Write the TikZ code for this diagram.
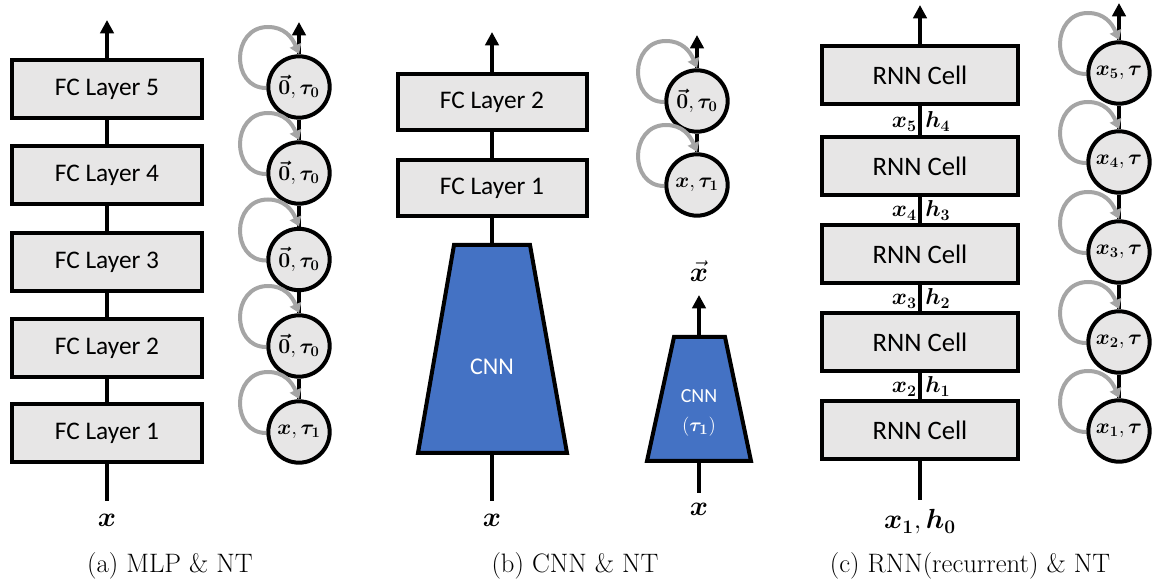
\documentclass[tikz,border=0pt]{standalone}
\usepackage{amsmath}
\usepackage{bm}
\usepackage{fontspec}
\newfontfamily\calibri{Carlito}
\usetikzlibrary{arrows.meta,calc}
\definecolor{boxgray}{RGB}{231,230,230}
\definecolor{cnnblue}{RGB}{68,114,196}
\definecolor{loopgray}{RGB}{165,165,165}
\newcommand{\selfloop}[1]{%
  \draw[loopline] ($(#1)+(-33,1)$) .. controls ($(#1)+(-68,1)$) and ($(#1)+(-68,-60)$) .. ($(#1)+(-31,-60)$)
    .. controls ($(#1)+(-15,-60)$) and ($(#1)+(-7,-50)$) .. ($(#1)+(0,-33)$);}
\newcommand{\ntl}[1]{\scalebox{0.92}{$#1$}}
\begin{document}
\begin{tikzpicture}[x=0.75pt,y=-0.75pt,
  conn/.style={line width=3pt},
  arr/.style={line width=3pt,-{Triangle[width=10pt,length=10pt]}},
  loopline/.style={draw=loopgray,line width=3pt,-{Triangle[width=9pt,length=7pt]}},
  fcbox/.style={draw,line width=3pt,fill=boxgray,minimum width=142.5pt,minimum height=43.5pt,inner sep=0pt,font=\calibri\fontsize{19}{23}\selectfont},
  rnnbox/.style={fcbox,minimum width=147pt,font=\calibri\fontsize{20}{24}\selectfont},
  nt/.style={circle,draw,line width=3pt,fill=boxgray,minimum size=46pt,inner sep=0pt,font=\fontsize{17.28}{20}\selectfont},
  lbl/.style={inner sep=0pt,font=\fontsize{20.74}{24}\selectfont},
  clbl/.style={inner sep=0pt,font=\fontsize{17.28}{20}\selectfont},
  cnnshape/.style={draw,line width=3pt,fill=cnnblue,line join=miter},
  captxt/.style={inner sep=0pt,font=\fontsize{20}{24}\selectfont}
]
\useasboundingbox (0,0) rectangle (1156,580);

% ---------- (a) MLP ----------
\node[fcbox] (a5) at (107,89.5) {FC Layer 5};
\node[fcbox] (a4) at (107,175.5) {FC Layer 4};
\node[fcbox] (a3) at (107,262) {FC Layer 3};
\node[fcbox] (a2) at (107,348) {FC Layer 2};
\node[fcbox] (a1) at (107,433) {FC Layer 1};
\coordinate (atop) at (107,20);
\coordinate (abot) at (107,501);
\node[lbl] (ax) at (107,520) {$\bm{x}$};
\draw[arr] (a5) -- (atop);
\draw[conn] (a5) -- (a4);
\draw[conn] (a4) -- (a3);
\draw[conn] (a3) -- (a2);
\draw[conn] (a2) -- (a1);
\draw[conn] (a1) -- (abot);

\node[nt] (na5) at (299,87) {\ntl{\bm{\vec{0}},\bm{\tau_0}}};
\node[nt] (na4) at (299,173) {\ntl{\bm{\vec{0}},\bm{\tau_0}}};
\node[nt] (na3) at (299,259.5) {\ntl{\bm{\vec{0}},\bm{\tau_0}}};
\node[nt] (na2) at (299,346) {\ntl{\bm{\vec{0}},\bm{\tau_0}}};
\node[nt] (na1) at (299,432) {\ntl{\bm{x},\bm{\tau_1}}};
\coordinate (natop) at (299,22);
\draw[arr] (na5) -- (natop);
\draw[conn] (na5) -- (na4);
\draw[conn] (na4) -- (na3);
\draw[conn] (na3) -- (na2);
\draw[conn] (na2) -- (na1);
\selfloop{na5}\selfloop{na4}\selfloop{na3}\selfloop{na2}\selfloop{na1}
\node[captxt] (capa) at (170,566) {(a) MLP \& NT};

% ---------- (b) CNN ----------
\node[fcbox,minimum width=141.75pt,minimum height=42pt] (b2) at (492,102) {FC Layer 2};
\node[fcbox,minimum width=141.75pt,minimum height=42pt] (b1) at (492,188) {FC Layer 1};
\coordinate (bcnntop) at (492,245);
\coordinate (bcnnbot) at (492,453);
\draw[cnnshape] (454,245) -- (530,245) -- (567,453) -- (418,453) -- cycle;
\node[font=\calibri\fontsize{18}{22}\selectfont,text=white] (bcnnt) at (492,367) {CNN};
\coordinate (btop) at (492,32);
\coordinate (bbot) at (492,501);
\node[lbl] (bx) at (492,520) {$\bm{x}$};
\draw[arr] (b2) -- (btop);
\draw[conn] (b2) -- (b1);
\draw[conn] (b1) -- (bcnntop);
\draw[conn] (bcnnbot) -- (bbot);

\node[nt] (nb2) at (697,101) {\ntl{\bm{\vec{0}},\bm{\tau_0}}};
\node[nt] (nb1) at (697,185) {\ntl{\bm{x},\bm{\tau_1}}};
\coordinate (nbtop) at (697,35);
\draw[arr] (nb2) -- (nbtop);
\draw[conn] (nb2) -- (nb1);
\selfloop{nb2}\selfloop{nb1}

\coordinate (scnntop) at (699,337);
\coordinate (scnnbot) at (699,461);
\draw[cnnshape] (674,337) -- (725,337) -- (751,461) -- (647,461) -- cycle;
\node[text=white,align=center,inner sep=0pt,font=\calibri\fontsize{15}{22}\selectfont] (scnnt) at (699,413) {CNN\\$(\bm{\tau_1})$};
\coordinate (sxtop) at (699,295);
\coordinate (sbot) at (699,493);
\node[lbl] (sxv) at (699,271) {$\vec{\bm{x}}$};
\node[lbl] (sx) at (699,509) {$\bm{x}$};
\draw[arr] (scnntop) -- (sxtop);
\draw[conn] (scnnbot) -- (sbot);
\node[captxt] (capb) at (575,566) {(b) CNN \& NT};

% ---------- (c) RNN ----------
\node[rnnbox] (c5) at (920,75) {RNN Cell};
\node[rnnbox] (c4) at (920,166) {RNN Cell};
\node[rnnbox] (c3) at (920,254) {RNN Cell};
\node[rnnbox] (c2) at (920,342) {RNN Cell};
\node[rnnbox] (c1) at (920,430) {RNN Cell};
\coordinate (ctop) at (920,5);
\coordinate (cbot) at (920,500);
\draw[arr] (c5) -- (ctop);
\draw[conn] (c5) -- (c4);
\draw[conn] (c4) -- (c3);
\draw[conn] (c3) -- (c2);
\draw[conn] (c2) -- (c1);
\draw[conn] (c1) -- (cbot);
\node[clbl,anchor=base east] (x5l) at (917,128) {$\bm{x_5}$};
\node[clbl,anchor=base west] (h4l) at (925,128) {$\bm{h_4}$};
\node[clbl,anchor=base east] (x4l) at (917,217) {$\bm{x_4}$};
\node[clbl,anchor=base west] (h3l) at (925,217) {$\bm{h_3}$};
\node[clbl,anchor=base east] (x3l) at (917,305) {$\bm{x_3}$};
\node[clbl,anchor=base west] (h2l) at (925,305) {$\bm{h_2}$};
\node[clbl,anchor=base east] (x2l) at (917,393) {$\bm{x_2}$};
\node[clbl,anchor=base west] (h1l) at (925,393) {$\bm{h_1}$};
\node[inner sep=0pt,font=\fontsize{20.74}{24}\selectfont] (cx) at (920,522) {$\bm{x_1},\bm{h_0}$};

\node[nt] (nc5) at (1119,73) {\ntl{\bm{x_5},\bm{\tau}}};
\node[nt] (nc4) at (1119,162) {\ntl{\bm{x_4},\bm{\tau}}};
\node[nt] (nc3) at (1119,252) {\ntl{\bm{x_3},\bm{\tau}}};
\node[nt] (nc2) at (1119,342) {\ntl{\bm{x_2},\bm{\tau}}};
\node[nt] (nc1) at (1119,431) {\ntl{\bm{x_1},\bm{\tau}}};
\coordinate (nctop) at (1119,3);
\draw[arr] (nc5) -- (nctop);
\draw[conn] (nc5) -- (nc4);
\draw[conn] (nc4) -- (nc3);
\draw[conn] (nc3) -- (nc2);
\draw[conn] (nc2) -- (nc1);
\selfloop{nc5}\selfloop{nc4}\selfloop{nc3}\selfloop{nc2}\selfloop{nc1}
\node[captxt] (capc) at (970,566) {(c) RNN(recurrent) \& NT};
\end{tikzpicture}
\end{document}
